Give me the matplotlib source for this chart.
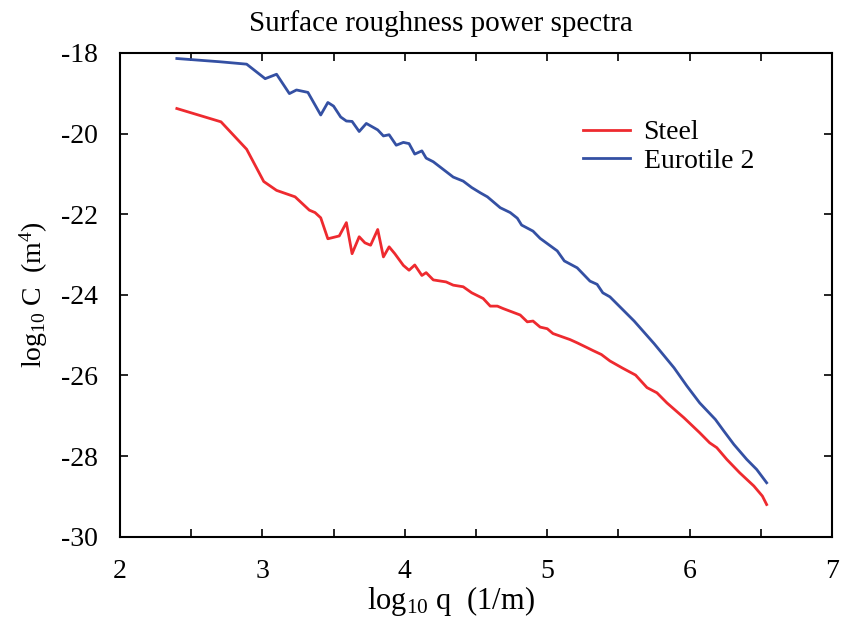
import matplotlib.pyplot as plt
from matplotlib.ticker import MultipleLocator

plt.rcParams["font.family"] = ["Liberation Serif", "DejaVu Serif"]
plt.rcParams["mathtext.fontset"] = "custom"
plt.rcParams["mathtext.rm"] = "Liberation Serif"
plt.rcParams["mathtext.it"] = "Liberation Serif:italic"
plt.rcParams["axes.unicode_minus"] = False

# log10 q, log10 C for steel
steel_q = [2.40, 2.71, 2.89, 3.01, 3.10, 3.23, 3.33, 3.37, 3.41, 3.46, 3.54, 3.59,
           3.63, 3.68, 3.72, 3.76, 3.81, 3.85, 3.89, 3.93, 3.99, 4.03, 4.07, 4.12,
           4.15, 4.20, 4.29, 4.34, 4.41, 4.47, 4.55, 4.60, 4.65, 4.69, 4.75, 4.81,
           4.86, 4.90, 4.95, 5.00, 5.04, 5.16, 5.21, 5.28, 5.32, 5.38, 5.44, 5.53,
           5.62, 5.70, 5.77, 5.84, 5.96, 6.07, 6.14, 6.19, 6.26, 6.35, 6.45, 6.51,
           6.54]
steel_c = [-19.38, -19.71, -20.39, -21.19, -21.41, -21.57, -21.90, -21.96, -22.09,
           -22.61, -22.54, -22.21, -22.98, -22.56, -22.71, -22.77, -22.38, -23.06,
           -22.81, -22.98, -23.27, -23.39, -23.26, -23.52, -23.45, -23.63, -23.68,
           -23.76, -23.80, -23.95, -24.09, -24.28, -24.28, -24.34, -24.42, -24.50,
           -24.67, -24.65, -24.80, -24.84, -24.96, -25.11, -25.19, -25.31, -25.38,
           -25.48, -25.64, -25.82, -25.99, -26.30, -26.43, -26.68, -27.05, -27.42,
           -27.67, -27.79, -28.08, -28.41, -28.74, -28.99, -29.20]

# log10 q, log10 C for Eurotile 2
tile_q = [2.40, 2.70, 2.89, 3.02, 3.10, 3.19, 3.24, 3.32, 3.41, 3.46, 3.50, 3.55,
          3.59, 3.63, 3.68, 3.73, 3.81, 3.85, 3.89, 3.94, 3.99, 4.03, 4.07, 4.12,
          4.15, 4.20, 4.34, 4.41, 4.47, 4.53, 4.58, 4.67, 4.74, 4.79, 4.82, 4.90,
          4.95, 5.07, 5.12, 5.21, 5.30, 5.35, 5.39, 5.44, 5.61, 5.75, 5.89, 5.98,
          6.07, 6.18, 6.24, 6.31, 6.40, 6.47, 6.54]
tile_c = [-18.14, -18.22, -18.28, -18.64, -18.53, -19.01, -18.92, -18.98, -19.54,
          -19.23, -19.32, -19.59, -19.69, -19.70, -19.95, -19.75, -19.91, -20.06,
          -20.03, -20.29, -20.22, -20.25, -20.51, -20.43, -20.61, -20.70, -21.08,
          -21.18, -21.34, -21.47, -21.57, -21.84, -21.96, -22.10, -22.27, -22.42,
          -22.60, -22.91, -23.16, -23.33, -23.66, -23.74, -23.95, -24.05, -24.65,
          -25.21, -25.81, -26.26, -26.68, -27.09, -27.38, -27.71, -28.08, -28.33,
          -28.66]

fig = plt.figure(figsize=(8.44, 6.22), dpi=100)
ax = fig.add_axes([0.142, 0.137, 0.844, 0.778])

ax.plot(steel_q, steel_c, color="#ee2a2f", lw=2.0, label="Steel")
ax.plot(tile_q, tile_c, color="#3450a3", lw=2.0, label="Eurotile 2")

ax.set_xlim(2, 7)
ax.set_ylim(-30, -18)
ax.xaxis.set_major_locator(MultipleLocator(1))
ax.xaxis.set_minor_locator(MultipleLocator(0.5))
ax.yaxis.set_major_locator(MultipleLocator(2))
ax.tick_params(which="both", direction="in", top=True, right=True,
               labelsize=20, width=1.2, length=6)
ax.tick_params(axis="x", pad=16)
ax.tick_params(axis="y", pad=16)
for s in ax.spines.values():
    s.set_linewidth(1.5)

ax.set_title("Surface roughness power spectra", fontsize=21, pad=16, x=0.451)
ax.set_xlabel(r"log$_{10}$ q  (1/m)", fontsize=22, labelpad=0, x=0.465)
ax.set_ylabel(r"log$_{10}$ C  (m$^4$)", fontsize=20, labelpad=8)

ax.legend(frameon=False, fontsize=20, loc="upper left",
          bbox_to_anchor=(0.63, 0.89), handlelength=1.7,
          handletextpad=0.5, borderpad=0, labelspacing=0.12)

fig.savefig("out.png", dpi=100)
